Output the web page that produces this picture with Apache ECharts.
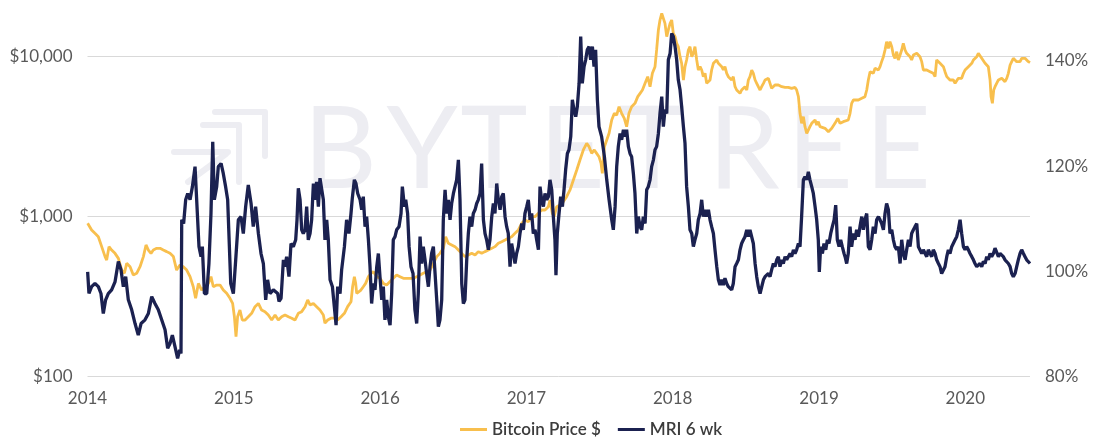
<!DOCTYPE html>
<html>
<head>
<meta charset="utf-8">
<title>Bitcoin Price vs MRI 6 wk</title>
<script src="https://cdn.jsdelivr.net/npm/echarts@6/dist/echarts.min.js"></script>
<style>
  html, body { margin: 0; padding: 0; background: #ffffff; }
  #chart { width: 1099px; height: 439px; }
</style>
</head>
<body>
<div id="chart"></div>
<script>
// Time is in decimal years; price in US dollars; MRI in percent.
const yearTicks = [2014, 2015, 2016, 2017, 2018, 2019, 2020];
const priceTicks = [100, 1000, 10000];
const mriTicks = [80, 100, 120, 140];

const priceName = 'Bitcoin Price $';
const mriName = 'MRI 6 wk';

const pricePoints = [
  [2014.001,909],[2014.028,826],[2014.051,787],[2014.074,750],[2014.097,650],[2014.120,563],[2014.131,536],
  [2014.147,650],[2014.165,619],[2014.188,590],[2014.211,549],[2014.234,464],[2014.252,443],[2014.268,511],
  [2014.291,487],[2014.313,432],[2014.336,443],[2014.359,487],[2014.382,563],[2014.400,666],[2014.416,619],
  [2014.434,590],[2014.450,619],[2014.473,634],[2014.496,634],[2014.518,619],[2014.541,605],[2014.564,590],
  [2014.587,563],[2014.609,464],[2014.632,499],[2014.655,487],[2014.678,464],[2014.701,422],[2014.723,365],
  [2014.739,309],[2014.758,383],[2014.780,348],[2014.803,365],[2014.826,383],[2014.844,422],[2014.860,365],
  [2014.883,374],[2014.906,374],[2014.928,348],[2014.951,332],[2014.974,309],[2014.992,287],[2015.004,237],
  [2015.015,178],[2015.026,237],[2015.042,261],[2015.058,226],[2015.077,226],[2015.099,237],[2015.122,249],
  [2015.145,274],[2015.168,287],[2015.190,261],[2015.213,255],[2015.236,243],[2015.259,226],
  [2015.282,243],[2015.304,226],[2015.327,237],[2015.350,243],[2015.373,237],[2015.396,232],[2015.418,226],
  [2015.441,249],[2015.464,255],[2015.487,274],[2015.505,302],[2015.521,281],[2015.544,287],[2015.566,274],
  [2015.589,261],[2015.612,243],[2015.623,216],[2015.642,226],[2015.664,232],[2015.687,232],[2015.710,226],
  [2015.733,237],[2015.756,249],[2015.778,274],[2015.801,294],[2015.812,365],[2015.824,422],[2015.833,383],
  [2015.840,332],[2015.851,332],[2015.869,348],[2015.885,365],[2015.901,383],[2015.920,422],[2015.938,443],
  [2015.954,453],[2015.977,422],[2015.999,412],[2016.022,383],[2016.045,374],[2016.068,393],[2016.090,412],
  [2016.113,432],[2016.136,422],[2016.159,412],[2016.182,412],[2016.204,412],[2016.227,412],[2016.250,422],
  [2016.273,432],[2016.295,443],[2016.318,453],[2016.341,464],[2016.364,511],[2016.387,563],[2016.409,590],
  [2016.432,634],[2016.448,750],[2016.466,682],[2016.489,666],[2016.512,650],[2016.535,619],[2016.558,590],
  [2016.580,563],[2016.603,576],[2016.626,590],[2016.649,576],[2016.671,605],[2016.694,590],[2016.717,605],
  [2016.740,619],[2016.763,634],[2016.785,650],[2016.808,682],[2016.831,698],[2016.854,715],[2016.876,733],
  [2016.899,750],[2016.922,787],[2016.945,826],[2016.968,909],[2016.990,954],[2017.013,931],[2017.036,1000],
  [2017.059,1000],[2017.082,1050],[2017.104,1101],[2017.127,1101],[2017.150,1155],[2017.161,1272],[2017.177,1050],
  [2017.189,1000],[2017.207,1155],[2017.230,1184],[2017.252,1241],[2017.275,1334],[2017.298,1469],[2017.321,1696],
  [2017.344,1959],[2017.366,2262],[2017.389,2612],[2017.412,2874],[2017.428,2740],[2017.446,2489],[2017.464,2612],
  [2017.480,2489],[2017.496,2372],[2017.510,2155],[2017.519,1866],[2017.533,2740],[2017.549,3015],[2017.565,3320],
  [2017.583,4022],[2017.601,4426],[2017.617,4321],[2017.633,4872],[2017.651,4426],[2017.669,4119],[2017.685,3653],
  [2017.701,4426],[2017.719,4872],[2017.742,5110],[2017.761,5627],[2017.777,5902],[2017.793,6192],[2017.811,6817],
  [2017.829,7504],[2017.845,6497],[2017.861,7871],[2017.879,8664],
  [2017.890,11014],[2017.902,14690],[2017.913,16960],[2017.925,18664],[2017.936,19118],[2017.947,16160],
  [2017.959,13344],[2017.970,14690],[2017.982,16160],[2017.993,16960],[2018.004,13996],[2018.016,13344],
  [2018.027,12118],[2018.038,11552],[2018.050,10005],[2018.061,9089],[2018.073,7151],[2018.084,8664],
  [2018.095,9536],[2018.107,11014],[2018.118,11552],[2018.130,10005],[2018.141,10496],[2018.152,11552],
  [2018.164,9536],[2018.175,8258],[2018.187,8664],[2018.198,8258],[2018.209,7504],[2018.221,7871],
  [2018.232,6817],[2018.244,6655],[2018.255,7151],[2018.266,8258],[2018.278,9089],[2018.289,9089],
  [2018.301,9536],[2018.312,9089],[2018.323,9311],[2018.335,8664],[2018.346,8258],[2018.357,8664],
  [2018.369,7871],[2018.380,7504],[2018.392,7504],[2018.403,7151],[2018.414,7504],[2018.426,6497],
  [2018.437,6192],[2018.449,6192],[2018.460,5902],[2018.471,6192],[2018.483,6192],[2018.494,6497],
  [2018.506,6192],[2018.517,7151],[2018.528,7504],[2018.540,8258],[2018.551,7871],[2018.563,7151],
  [2018.574,6817],[2018.585,6497],[2018.597,6192],[2018.608,6497],[2018.620,6817],[2018.631,7151],
  [2018.642,7151],[2018.654,7326],[2018.665,6817],[2018.676,6342],[2018.688,6497],[2018.699,6655],
  [2018.722,6655],[2018.745,6497],[2018.768,6433],[2018.790,6433],[2018.813,6342],[2018.836,6433],
  [2018.847,6192],[2018.859,5627],[2018.870,4426],[2018.881,3832],[2018.893,4219],[2018.904,3653],
  [2018.916,3320],[2018.927,3241],[2018.938,3653],[2018.950,3832],[2018.961,3832],[2018.973,4022],
  [2018.984,3742],[2018.995,3926],[2019.007,3653],[2019.018,3567],[2019.041,3567],[2019.064,3400],
  [2019.087,3567],[2019.109,3832],[2019.128,4119],[2019.144,3832],[2019.166,3926],
  [2019.178,3926],[2019.200,4022],[2019.212,4426],[2019.223,5110],[2019.235,5364],[2019.246,5236],
  [2019.269,5364],[2019.292,5494],[2019.303,5364],[2019.314,5627],[2019.326,6192],[2019.337,7151],
  [2019.349,8062],[2019.360,8258],[2019.371,7871],[2019.383,8458],[2019.394,8664],[2019.406,8258],
  [2019.417,8664],[2019.428,9311],[2019.440,10005],[2019.451,11014],[2019.462,12417],[2019.474,11281],
  [2019.485,12417],[2019.497,11552],[2019.508,10247],[2019.519,9768],[2019.531,10752],[2019.542,9536],
  [2019.554,10247],[2019.565,11014],[2019.576,12118],[2019.588,11014],[2019.599,10496],[2019.611,10752],
  [2019.622,10005],[2019.633,9536],[2019.645,10247],[2019.656,10247],[2019.668,10496],[2019.679,10247],
  [2019.690,10005],[2019.702,9311],[2019.713,8258],[2019.725,8062],[2019.736,8258],[2019.747,8458],
  [2019.759,8062],[2019.770,8258],[2019.781,7871],[2019.793,7504],[2019.804,9536],[2019.816,9311],
  [2019.827,9089],[2019.838,8874],[2019.850,8664],[2019.861,8062],[2019.873,7504],[2019.884,7686],
  [2019.895,7151],[2019.907,7326],[2019.918,7151],[2019.930,6817],[2019.941,6982],[2019.952,7326],
  [2019.964,7151],[2019.975,7326],[2019.987,7871],[2019.998,8258],[2020.009,8062],[2020.021,8664],
  [2020.032,8874],[2020.044,9089],[2020.055,9536],[2020.066,9768],[2020.078,10005],[2020.089,10496],
  [2020.100,10247],[2020.112,9768],[2020.123,9536],[2020.135,9089],[2020.146,9311],[2020.157,8664],
  [2020.169,7151],[2020.176,5627],[2020.185,5110],[2020.194,6192],[2020.203,6497],[2020.214,6817],
  [2020.226,7151],[2020.237,6982],[2020.249,7326],[2020.260,7151],[2020.271,6982],[2020.283,7326],
  [2020.294,7871],[2020.306,8874],[2020.317,9311],[2020.328,9768],[2020.340,9536],[2020.351,9311],
  [2020.362,9536],[2020.374,9311],[2020.385,9768],[2020.397,9536],[2020.408,9768],[2020.419,9536],
  [2020.431,9311],[2020.442,9177]
];

const mriPoints = [
  [2014.001,99.9],[2014.010,95.8],[2014.028,97.1],[2014.051,97.7],[2014.074,97.1],[2014.092,95.8],[2014.108,92.0],
  [2014.124,94.6],[2014.142,95.8],[2014.165,96.5],[2014.188,98.0],[2014.211,101.9],[2014.229,100.3],[2014.245,97.1],
  [2014.261,99.0],[2014.279,94.6],[2014.302,92.7],[2014.325,90.1],[2014.347,87.9],[2014.366,90.1],[2014.393,90.8],
  [2014.416,92.0],[2014.439,95.2],[2014.461,93.9],[2014.484,92.7],[2014.507,90.8],[2014.530,88.9],[2014.548,85.4],
  [2014.564,86.3],[2014.580,87.9],[2014.598,85.7],[2014.616,83.5],[2014.630,85.1],[2014.639,84.4],[2014.644,109.8],
  [2014.657,109.1],[2014.671,113.6],[2014.685,114.8],[2014.701,113.6],[2014.717,116.1],[2014.735,119.9],[2014.748,119.9],
  [2014.762,104.7],[2014.776,102.8],[2014.785,104.7],[2014.799,95.8],[2014.815,95.8],[2014.830,101.5],[2014.844,111.0],
  [2014.856,124.6],[2014.867,113.6],[2014.883,116.1],[2014.894,119.9],[2014.913,120.5],[2014.928,118.6],[2014.944,116.1],
  [2014.958,113.6],[2014.967,113.6],[2014.979,97.7],[2014.997,95.8],[2015.013,102.2],[2015.031,109.8],[2015.049,110.4],
  [2015.065,107.2],[2015.081,112.3],[2015.099,116.4],[2015.118,112.9],[2015.133,108.5],[2015.149,112.3],[2015.168,107.2],
  [2015.186,103.4],[2015.202,101.5],[2015.218,94.6],[2015.231,98.4],[2015.247,95.8],[2015.270,96.5],
  [2015.300,95.8],[2015.309,94.3],[2015.323,94.9],[2015.339,102.2],[2015.350,100.9],[2015.361,102.8],[2015.377,99.0],
  [2015.391,105.3],[2015.407,104.7],[2015.423,106.0],[2015.432,109.8],[2015.441,115.8],[2015.453,113.6],[2015.464,107.9],
  [2015.475,107.2],[2015.487,107.9],[2015.498,112.3],[2015.509,106.0],[2015.521,107.2],[2015.532,109.8],[2015.544,116.7],
  [2015.555,113.6],[2015.566,117.0],[2015.578,112.3],[2015.589,117.7],[2015.601,117.4],[2015.612,113.6],[2015.623,106.0],
  [2015.635,109.8],[2015.646,106.0],[2015.658,98.4],[2015.674,97.1],[2015.687,93.3],[2015.699,89.8],[2015.710,97.1],
  [2015.726,95.8],[2015.737,100.3],[2015.756,104.7],[2015.771,109.8],[2015.787,107.2],[2015.801,111.0],[2015.810,113.9],
  [2015.824,117.4],[2015.835,116.7],[2015.847,114.8],[2015.863,113.6],[2015.874,111.7],[2015.885,114.2],[2015.897,108.5],
  [2015.908,110.4],[2015.920,106.0],[2015.931,100.9],[2015.942,93.9],[2015.954,97.7],[2015.965,96.5],[2015.977,100.9],
  [2015.988,103.4],[2015.999,99.0],[2016.011,94.6],[2016.022,97.1],[2016.033,90.8],[2016.045,94.6],[2016.056,91.4],
  [2016.068,89.8],[2016.079,95.8],[2016.090,106.0],[2016.102,106.6],[2016.113,107.9],[2016.129,108.5],[2016.143,111.0],
  [2016.152,116.1],[2016.166,112.3],[2016.175,113.6],[2016.188,111.0],[2016.198,104.7],[2016.211,100.9],[2016.225,99.6],
  [2016.238,92.7],[2016.250,90.1],[2016.261,95.8],[2016.273,106.6],[2016.284,101.5],[2016.295,104.7],[2016.307,102.2],
  [2016.318,99.6],[2016.330,97.1],[2016.341,100.9],[2016.352,103.4],[2016.364,104.7],[2016.375,105.0],[2016.387,94.6],
  [2016.398,89.5],[2016.409,90.8],[2016.421,94.6],[2016.432,109.8],[2016.444,115.5],[2016.455,111.0],[2016.466,113.6],
  [2016.478,109.8],[2016.489,112.9],[2016.501,114.8],[2016.512,116.1],[2016.523,117.4],[2016.535,121.2],[2016.546,113.6],
  [2016.558,97.7],[2016.569,93.9],
  [2016.580,94.6],[2016.592,102.2],[2016.603,107.2],[2016.614,110.4],[2016.626,108.5],[2016.637,111.0],[2016.649,111.7],
  [2016.660,112.9],[2016.671,113.6],[2016.683,114.8],[2016.694,120.5],[2016.706,109.8],[2016.717,107.2],[2016.728,106.0],
  [2016.740,104.1],[2016.751,106.0],[2016.763,110.4],[2016.774,112.9],[2016.785,111.0],[2016.797,116.7],[2016.808,113.6],
  [2016.820,111.7],[2016.831,114.2],[2016.842,114.8],[2016.854,110.4],[2016.865,108.5],[2016.876,107.2],[2016.888,100.9],
  [2016.899,105.3],[2016.911,103.4],[2016.922,101.5],[2016.933,103.4],[2016.945,104.7],[2016.956,107.2],[2016.968,109.1],
  [2016.979,107.9],[2016.990,111.0],[2017.002,112.3],[2017.013,113.6],[2017.025,109.8],[2017.036,111.0],[2017.047,107.2],
  [2017.059,107.9],[2017.070,106.0],[2017.082,104.1],[2017.093,116.1],[2017.104,113.6],[2017.116,112.3],[2017.127,114.8],
  [2017.139,113.6],[2017.150,114.2],[2017.161,117.4],[2017.173,115.5],[2017.184,110.4],[2017.195,106.0],[2017.202,99.3],
  [2017.211,107.2],[2017.223,111.0],[2017.234,114.2],[2017.246,112.3],[2017.257,115.5],[2017.268,119.3],[2017.280,122.4],
  [2017.291,123.1],[2017.303,125.6],[2017.314,132.6],[2017.325,130.7],[2017.337,129.4],[2017.348,131.3],[2017.360,135.7],
  [2017.371,144.6],[2017.382,135.7],[2017.394,138.9],[2017.405,140.2],[2017.416,142.1],[2017.428,142.7],[2017.439,140.2],
  [2017.451,142.7],[2017.462,138.9],[2017.473,142.1],[2017.485,132.6],[2017.496,127.5],[2017.514,125.6],[2017.533,121.8],
  [2017.549,117.4],[2017.565,113.6],[2017.583,109.8],[2017.594,107.9],[2017.606,112.3],[2017.617,119.9],[2017.628,123.7],
  [2017.640,126.2],[2017.651,125.0],[2017.663,126.9],[2017.674,125.6],[2017.685,126.9],[2017.697,123.7],[2017.708,122.4],
  [2017.719,121.8],[2017.731,118.6],[2017.742,114.8],[2017.754,107.2],[2017.765,110.4],[2017.777,108.5],[2017.788,107.9],
  [2017.799,110.4],[2017.811,109.1],[2017.822,115.5],[2017.833,116.1],[2017.845,117.4],[2017.856,119.9],[2017.868,121.2],
  [2017.879,123.1],[2017.890,123.7],[2017.902,126.2],[2017.913,130.0],[2017.925,133.2],[2017.936,127.5],[2017.947,130.7],
  [2017.959,130.0],[2017.970,140.2],[2017.982,141.4],[2017.993,145.2],[2018.004,144.6],[2018.016,142.7],[2018.027,140.2],
  [2018.038,136.4],[2018.050,134.5],[2018.061,131.3],[2018.073,127.5],[2018.084,124.3],[2018.095,116.1],[2018.107,112.3],
  [2018.118,107.9],[2018.130,107.2],[2018.141,104.7],[2018.152,106.0],[2018.164,107.2],[2018.175,109.8],[2018.187,111.0],
  [2018.198,113.6],[2018.209,110.4],[2018.221,111.7],[2018.232,110.4],[2018.244,111.7],[2018.255,109.8],[2018.266,108.5],
  [2018.278,107.2],[2018.289,104.1],[2018.301,100.9],[2018.312,98.4],[2018.323,97.4],[2018.335,98.4],[2018.346,97.4],
  [2018.357,98.7],[2018.369,97.7],[2018.380,97.1],[2018.392,97.4],[2018.403,96.5],[2018.414,97.7],[2018.426,100.9],
  [2018.437,101.5],[2018.449,102.2],[2018.460,104.1],[2018.471,105.3],[2018.483,106.0],[2018.494,106.6],[2018.506,107.9],
  [2018.517,106.6],[2018.528,107.9],[2018.540,107.9],[2018.551,105.3],[2018.563,101.5],[2018.574,99.0],[2018.585,97.1],
  [2018.597,95.8],[2018.608,95.5],[2018.620,98.4],[2018.631,99.0],[2018.642,99.0],[2018.654,99.6],[2018.665,99.0],
  [2018.676,100.3],[2018.688,101.5],[2018.699,100.9],[2018.711,102.2],[2018.722,102.8],[2018.733,100.9],[2018.745,102.2],
  [2018.756,101.5],[2018.768,102.8],[2018.779,102.2],[2018.790,102.2],[2018.802,103.4],[2018.813,102.8],[2018.825,104.1],
  [2018.836,103.4],[2018.847,104.1],[2018.859,105.3],[2018.870,104.7],[2018.881,110.4],[2018.893,117.4],[2018.904,118.0],
  [2018.916,117.4],[2018.927,118.9],[2018.938,117.4],[2018.950,116.1],[2018.961,114.8],[2018.973,112.3],[2018.984,109.8],
  [2018.995,106.0],[2019.002,99.9],[2019.011,104.7],[2019.023,103.4],[2019.034,105.3],[2019.046,104.1],[2019.057,106.0],
  [2019.068,105.3],[2019.080,107.2],[2019.091,108.5],[2019.103,109.8],[2019.114,112.6],[2019.125,106.0],[2019.137,104.7],
  [2019.148,106.0],[2019.159,104.7],[2019.171,103.4],
  [2019.178,102.8],[2019.189,101.5],[2019.200,103.4],[2019.212,108.5],[2019.223,104.7],[2019.235,107.2],[2019.246,106.0],
  [2019.257,107.9],[2019.269,106.6],[2019.280,108.5],[2019.292,110.4],[2019.303,107.9],[2019.314,109.8],[2019.326,111.0],
  [2019.337,104.7],[2019.349,104.1],[2019.360,106.0],[2019.371,108.5],[2019.383,107.2],[2019.394,109.8],[2019.406,110.4],
  [2019.417,109.8],[2019.428,109.1],[2019.440,107.9],[2019.451,111.0],[2019.462,112.9],[2019.474,111.7],[2019.485,107.2],
  [2019.497,107.9],[2019.508,106.0],[2019.519,104.7],[2019.531,104.1],[2019.542,104.7],[2019.554,101.5],[2019.565,106.0],
  [2019.576,103.4],[2019.588,102.2],[2019.599,104.1],[2019.611,106.0],[2019.622,104.7],[2019.633,107.2],[2019.645,107.9],
  [2019.656,108.5],[2019.668,109.1],[2019.679,104.7],[2019.690,104.7],[2019.702,103.4],[2019.713,104.1],[2019.725,103.4],
  [2019.736,102.8],[2019.747,104.1],[2019.759,103.4],[2019.770,102.8],[2019.781,104.1],[2019.793,103.4],[2019.804,102.2],
  [2019.816,101.5],[2019.827,100.9],[2019.838,99.6],[2019.850,99.3],[2019.861,100.9],[2019.873,102.8],[2019.884,104.1],
  [2019.895,103.4],[2019.907,104.7],[2019.918,104.7],[2019.930,106.0],[2019.941,106.6],[2019.952,107.9],[2019.964,109.8],
  [2019.975,107.2],[2019.987,104.7],[2019.998,104.1],[2020.009,104.7],[2020.021,104.1],[2020.032,103.4],[2020.044,102.8],
  [2020.055,102.2],[2020.066,101.5],[2020.078,100.9],[2020.089,100.9],[2020.100,101.5],[2020.112,100.9],[2020.123,101.9],
  [2020.135,101.5],[2020.146,102.8],[2020.157,102.2],[2020.169,103.4],[2020.180,102.8],[2020.192,103.4],[2020.203,104.4],
  [2020.214,104.1],[2020.226,102.8],[2020.237,103.4],[2020.249,103.4],[2020.260,102.8],[2020.271,102.2],[2020.283,102.2],
  [2020.294,101.5],[2020.306,100.9],[2020.317,99.6],[2020.328,99.0],[2020.340,99.6],[2020.351,100.9],[2020.362,102.2],
  [2020.374,103.4],[2020.385,104.1],[2020.397,103.4],[2020.408,102.8],[2020.419,102.2],[2020.431,102.2],[2020.442,101.5]
];

const GOLD = '#F8BF4D';
const NAVY = '#1B2150';
const LABEL = '#595959';
const FONT = 'Lato, "Noto Sans", sans-serif';
const MARK = '#EDEDF2';

// Faint brand watermark behind the plot
const watermarkLetters = [
  ['B', 340], ['Y', 422], ['T', 494], ['E', 572], ['T', 652], ['R', 744], ['E', 820], ['E', 898]
];
const watermark = watermarkLetters.map(([ch, cx]) => ({
  type: 'text', x: cx, y: 151, z: -10, silent: true,
  style: { text: ch, fill: MARK, font: 'normal 114px ' + FONT, textAlign: 'center', textVerticalAlign: 'middle' }
}));
const logoPaths = [
  [[215, 112], [265, 112], [265, 156]],
  [[203, 125], [239, 125], [239, 182]],
  [[174, 152], [228, 152]],
  [[188, 182], [226, 154]]
];
logoPaths.forEach(pts => watermark.push({
  type: 'polyline', z: -10, silent: true,
  shape: { points: pts },
  style: { stroke: MARK, lineWidth: 6, lineCap: 'round', lineJoin: 'round', fill: null }
}));

const chart = echarts.init(document.getElementById('chart'), null, { renderer: 'canvas' });

chart.setOption({
  backgroundColor: '#ffffff',
  animation: false,
  textStyle: { fontFamily: FONT },
  graphic: { elements: watermark },
  grid: { left: 87.5, right: 69, top: 56.7, bottom: 62.3, containLabel: false },
  legend: {
    data: [priceName, mriName],
    left: 455, top: 416,
    icon: 'rect', itemWidth: 27, itemHeight: 3, itemGap: 17,
    textStyle: { color: '#3c3c3c', fontSize: 17, fontWeight: 600, fontFamily: FONT }
  },
  xAxis: {
    type: 'value',
    min: yearTicks[0],
    max: 2020.442,
    interval: 1,
    axisLine: { show: false },
    axisTick: { show: false },
    splitLine: { show: false },
    axisLabel: {
      color: LABEL, fontSize: 17, margin: 13, showMaxLabel: false,
      formatter: v => (yearTicks.includes(v) ? String(v) : '')
    }
  },
  yAxis: [
    {
      type: 'log', logBase: 10,
      min: priceTicks[0], max: priceTicks[priceTicks.length - 1],
      position: 'left',
      axisLine: { show: false },
      axisTick: { show: false },
      splitLine: { show: true, lineStyle: { color: '#d9d9d9', width: 1 } },
      axisLabel: {
        color: LABEL, fontSize: 17, margin: 15,
        formatter: v => (priceTicks.includes(v) ? '$' + v.toLocaleString('en-US') : '')
      }
    },
    {
      type: 'value',
      min: mriTicks[0], max: 140.78, interval: 20,
      position: 'right',
      axisLine: { show: false },
      axisTick: { show: false },
      splitLine: { show: false },
      axisLabel: {
        color: LABEL, fontSize: 17, margin: 15, showMaxLabel: false,
        formatter: v => (mriTicks.includes(v) ? v + '%' : '')
      }
    }
  ],
  series: [
    {
      name: priceName, type: 'line', yAxisIndex: 0,
      data: pricePoints, showSymbol: false, clip: false,
      lineStyle: { color: GOLD, width: 2.8 }, itemStyle: { color: GOLD },
      z: 3
    },
    {
      name: mriName, type: 'line', yAxisIndex: 1,
      data: mriPoints, showSymbol: false, clip: false,
      lineStyle: { color: NAVY, width: 3.3 }, itemStyle: { color: NAVY },
      z: 4
    }
  ]
});
</script>
</body>
</html>
